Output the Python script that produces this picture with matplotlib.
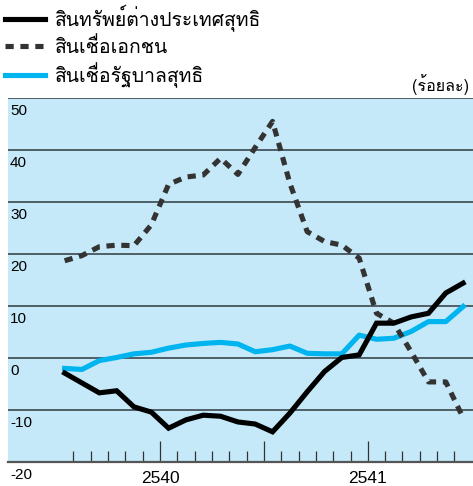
import matplotlib
matplotlib.use("Agg")
import matplotlib.pyplot as plt
from matplotlib import font_manager
from matplotlib.ft2font import FT2Font
import numpy as np

# monthly data, 24 months; year labels at month 5.5 and 17.5
months = np.arange(24)
net_foreign = [-2.9, -4.8, -6.7, -6.3, -9.4, -10.4, -13.5, -11.9, -11.0, -11.2, -12.3, -12.7,
               -14.2, -10.6, -6.5, -2.6, 0.1, 0.6, 6.7, 6.7, 7.9, 8.6, 12.5, 14.4]
private_credit = [18.7, 19.7, 21.4, 21.7, 21.6, 25.6, 33.4, 34.8, 35.2, 38.4, 35.3, 40.5,
                  45.5, 33.6, 24.3, 22.4, 21.7, 19.2, 8.6, 6.7, 1.2, -4.6, -4.6, -11.5]
gov_credit = [-2.0, -2.2, -0.5, 0.1, 0.8, 1.1, 1.9, 2.5, 2.8, 3.0, 2.7, 1.2,
              1.6, 2.3, 0.9, 0.8, 0.8, 4.4, 3.6, 3.8, 5.1, 7.0, 7.0, 9.9]
series_names = ["สินทรัพย์ต่างประเทศสุทธิ", "สินเชื่อเอกชน", "สินเชื่อรัฐบาลสุทธิ"]
year_pos = [5.5, 17.5]
year_labels = ["2540", "2541"]
yticks = [50, 40, 30, 20, 10, 0, -10, -20]


def thai_font():
    for f in font_manager.fontManager.ttflist:
        try:
            if FT2Font(f.fname).get_char_index(0x0E2A):
                return f.name
        except Exception:
            pass
    return "DejaVu Sans"


thai = thai_font()
num_font = "Liberation Sans"

fig = plt.figure(figsize=(4.73, 4.86), dpi=100)
ax = fig.add_axes([8 / 473, 24 / 486, 1 - 8 / 473, 364 / 486])
ax.set_facecolor("#c5e9f9")
ax.set_xlim(-3.27, 23.57)
ax.set_ylim(-20, 50)

for v in yticks:
    ax.axhline(v, color="#2f3a40", lw=1.1, zorder=1)

ax.plot(months, net_foreign, color="black", lw=3.7, solid_joinstyle="miter", zorder=4)
ax.plot(months, private_credit, color="#333333", lw=3.7, ls=(0, (1.6, 1.3)), zorder=3)
ax.plot(months, gov_credit, color="#00b4ef", lw=3.7, zorder=2)

for s in ["left", "right", "top"]:
    ax.spines[s].set_visible(False)
ax.spines["bottom"].set_color("#555555")
ax.spines["bottom"].set_linewidth(1.6)

minor = np.arange(0.5, 23, 1)
ax.set_xticks(minor, minor=True)
ax.set_xticks([5.5, 11.5, 17.5])
ax.set_xticklabels([])
ax.tick_params(axis="x", which="minor", direction="in", length=8, width=0.9, color="#333333")
ax.tick_params(axis="x", which="major", direction="in", length=15, width=0.9, color="#333333")
ax.set_yticks([])

for p, lab in zip(year_pos, year_labels):
    ax.annotate(lab, (p, -20), xytext=(0, -6.5), textcoords="offset points",
                ha="center", va="top", fontsize=12.5, family=num_font, annotation_clip=False)

for v in yticks:
    ax.annotate(str(v), (0, v), xycoords=("axes fraction", "data"), xytext=(1.5, -4.5),
                textcoords="offset points", ha="left", va="top", fontsize=11,
                family=num_font, annotation_clip=False)

fig.text(0.992, 0.805, "(ร้อยละ)", ha="right", va="bottom", fontsize=11.5,
         family=[thai, "DejaVu Sans"])

handles = ax.get_lines()[-3:]
leg = fig.legend(handles, series_names, loc="upper left", bbox_to_anchor=(0.0, 1.0),
                 frameon=False, handlelength=2.05, handletextpad=0.5, labelspacing=0.27,
                 borderpad=0.25, borderaxespad=0.0,
                 prop={"family": [thai, "DejaVu Sans"], "size": 14})

fig.savefig("out.png", dpi=100)
